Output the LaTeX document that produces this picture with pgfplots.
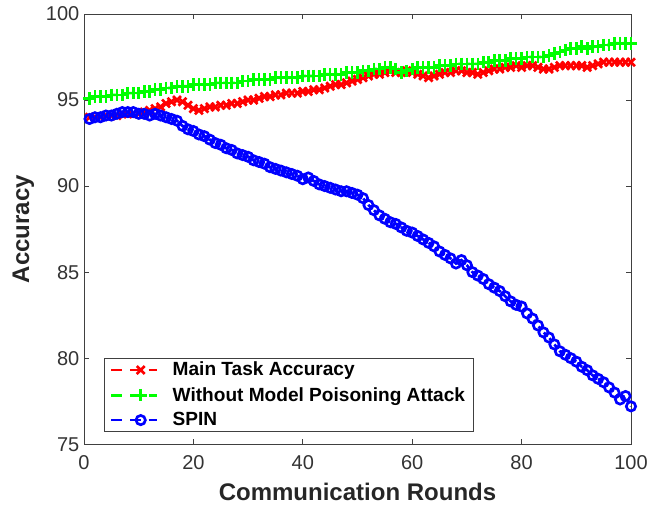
\documentclass[border=0pt]{standalone}
\usepackage{pgfplots}
\pgfplotsset{compat=1.18}
\usepackage{fontspec}
\setmainfont{Liberation Sans}

\pgfplotstableread{
x y
1 94.0
2 94.0
3 94.0
4 94.1
5 94.1
6 94.1
7 94.2
8 94.2
9 94.2
10 94.2
11 94.3
12 94.4
13 94.5
14 94.6
15 94.8
16 94.9
17 95.0
18 94.9
19 94.7
20 94.5
21 94.4
22 94.5
23 94.6
24 94.6
25 94.7
26 94.7
27 94.8
28 94.8
29 94.9
30 95.0
31 95.0
32 95.1
33 95.2
34 95.2
35 95.3
36 95.3
37 95.4
38 95.4
39 95.4
40 95.5
41 95.5
42 95.6
43 95.6
44 95.7
45 95.8
46 95.9
47 95.9
48 96.0
49 96.1
50 96.2
51 96.3
52 96.4
53 96.5
54 96.5
55 96.6
56 96.7
57 96.6
58 96.6
59 96.7
60 96.6
61 96.5
62 96.4
63 96.3
64 96.4
65 96.5
66 96.6
67 96.6
68 96.7
69 96.7
70 96.6
71 96.6
72 96.5
73 96.6
74 96.7
75 96.8
76 96.8
77 96.9
78 96.9
79 97.0
80 96.9
81 97.0
82 97.0
83 96.9
84 96.8
85 96.8
86 96.9
87 97.0
88 97.0
89 97.0
90 97.0
91 97.0
92 96.9
93 97.0
94 97.1
95 97.2
96 97.2
97 97.2
98 97.2
99 97.2
100 97.2
}\maintask

\pgfplotstableread{
x y
1 95.1
2 95.2
3 95.2
4 95.2
5 95.3
6 95.3
7 95.3
8 95.4
9 95.4
10 95.4
11 95.5
12 95.5
13 95.6
14 95.6
15 95.7
16 95.7
17 95.8
18 95.8
19 95.8
20 95.9
21 95.9
22 95.9
23 95.9
24 96.0
25 96.0
26 96.0
27 96.0
28 96.0
29 96.1
30 96.1
31 96.2
32 96.2
33 96.2
34 96.2
35 96.3
36 96.3
37 96.3
38 96.3
39 96.3
40 96.4
41 96.4
42 96.4
43 96.4
44 96.5
45 96.5
46 96.5
47 96.5
48 96.6
49 96.6
50 96.6
51 96.7
52 96.7
53 96.8
54 96.8
55 96.9
56 96.9
57 96.8
58 96.6
59 96.7
60 96.8
61 96.9
62 96.9
63 96.9
64 96.9
65 97.0
66 97.0
67 97.0
68 97.1
69 97.1
70 97.1
71 97.1
72 97.1
73 97.2
74 97.2
75 97.3
76 97.3
77 97.3
78 97.4
79 97.4
80 97.4
81 97.5
82 97.5
83 97.5
84 97.5
85 97.6
86 97.7
87 97.8
88 97.9
89 98.0
90 98.0
91 98.1
92 98.0
93 98.1
94 98.1
95 98.2
96 98.2
97 98.3
98 98.3
99 98.3
100 98.3
}\noattack

\pgfplotstableread{
x y
1 93.9
2 94.0
3 94.0
4 94.1
5 94.1
6 94.2
7 94.3
8 94.3
9 94.3
10 94.2
11 94.2
12 94.1
13 94.2
14 94.1
15 94.0
16 93.9
17 93.8
18 93.5
19 93.3
20 93.2
21 93.0
22 92.9
23 92.7
24 92.5
25 92.4
26 92.2
27 92.1
28 91.9
29 91.8
30 91.7
31 91.5
32 91.4
33 91.3
34 91.1
35 91.0
36 90.9
37 90.8
38 90.7
39 90.6
40 90.4
41 90.5
42 90.3
43 90.1
44 90.0
45 89.9
46 89.8
47 89.7
48 89.7
49 89.6
50 89.5
51 89.3
52 88.9
53 88.6
54 88.3
55 88.1
56 87.9
57 87.8
58 87.6
59 87.4
60 87.3
61 87.1
62 86.9
63 86.7
64 86.5
65 86.2
66 86.0
67 85.8
68 85.5
69 85.7
70 85.4
71 85.0
72 84.8
73 84.6
74 84.3
75 84.1
76 83.9
77 83.6
78 83.3
79 83.1
80 83.0
81 82.6
82 82.3
83 81.9
84 81.5
85 81.2
86 80.8
87 80.4
88 80.2
89 80.0
90 79.8
91 79.5
92 79.3
93 79.0
94 78.8
95 78.6
96 78.3
97 78.0
98 77.6
99 77.8
100 77.2
}\spin

\begin{document}
\begin{tikzpicture}
\begin{axis}[
  scale only axis,
  width=410pt, height=322.5pt,
  xmin=0, xmax=100, ymin=75, ymax=100,
  xtick={0,20,...,100}, ytick={75,80,...,100},
  tick align=inside,
  major tick length=4pt,
  axis line style={black!75, line width=0.6pt},
  tick style={black!75, line width=0.6pt},
  tick label style={font=\fontsize{15}{18}\selectfont, text=black!80},
  xticklabel style={yshift=-5pt},
  /pgf/number format/assume math mode=true,
  xlabel={\textbf{Communication Rounds}},
  ylabel={\textbf{Accuracy}},
  label style={font=\fontsize{18}{21}\selectfont, text=black!85},
  xlabel style={yshift=-3pt},
  ylabel style={yshift=2pt},
  legend style={at={(rel axis cs:0.037,0.028)}, anchor=south west,
    font=\fontsize{14.3}{16}\selectfont\bfseries, draw=black!75,
    line width=0.6pt, row sep=3pt, inner xsep=4pt, inner ysep=1pt},
  legend cell align=left,
  legend image code/.code={%
    \draw[dash pattern=on 8pt off 6pt, mark repeat=2, mark phase=2]
      plot coordinates {(0pt,0pt) (22pt,0pt) (34pt,0pt)};
    \path[draw=none] (0pt,0pt) -- (44pt,0pt);},
  every axis plot/.append style={line width=2pt, dashed},
]
\addplot[color=red, mark=x, mark size=4.2pt, mark options={solid}] table[x=x,y=y] {\maintask};
\addplot[color=green, mark=+, mark size=4.7pt, mark options={solid}] table[x=x,y=y] {\noattack};
\addplot[color=blue, mark=o, mark size=3.5pt, mark options={solid}] table[x=x,y=y] {\spin};
\legend{Main Task Accuracy, Without Model Poisoning Attack, SPIN}
\end{axis}
\path (current axis.south west) ++(-63pt,-46.5pt) coordinate (bl);
\path (current axis.north east) ++(28.5pt,10.5pt) coordinate (tr);
\path[use as bounding box] (bl) rectangle (tr);
\end{tikzpicture}
\end{document}
